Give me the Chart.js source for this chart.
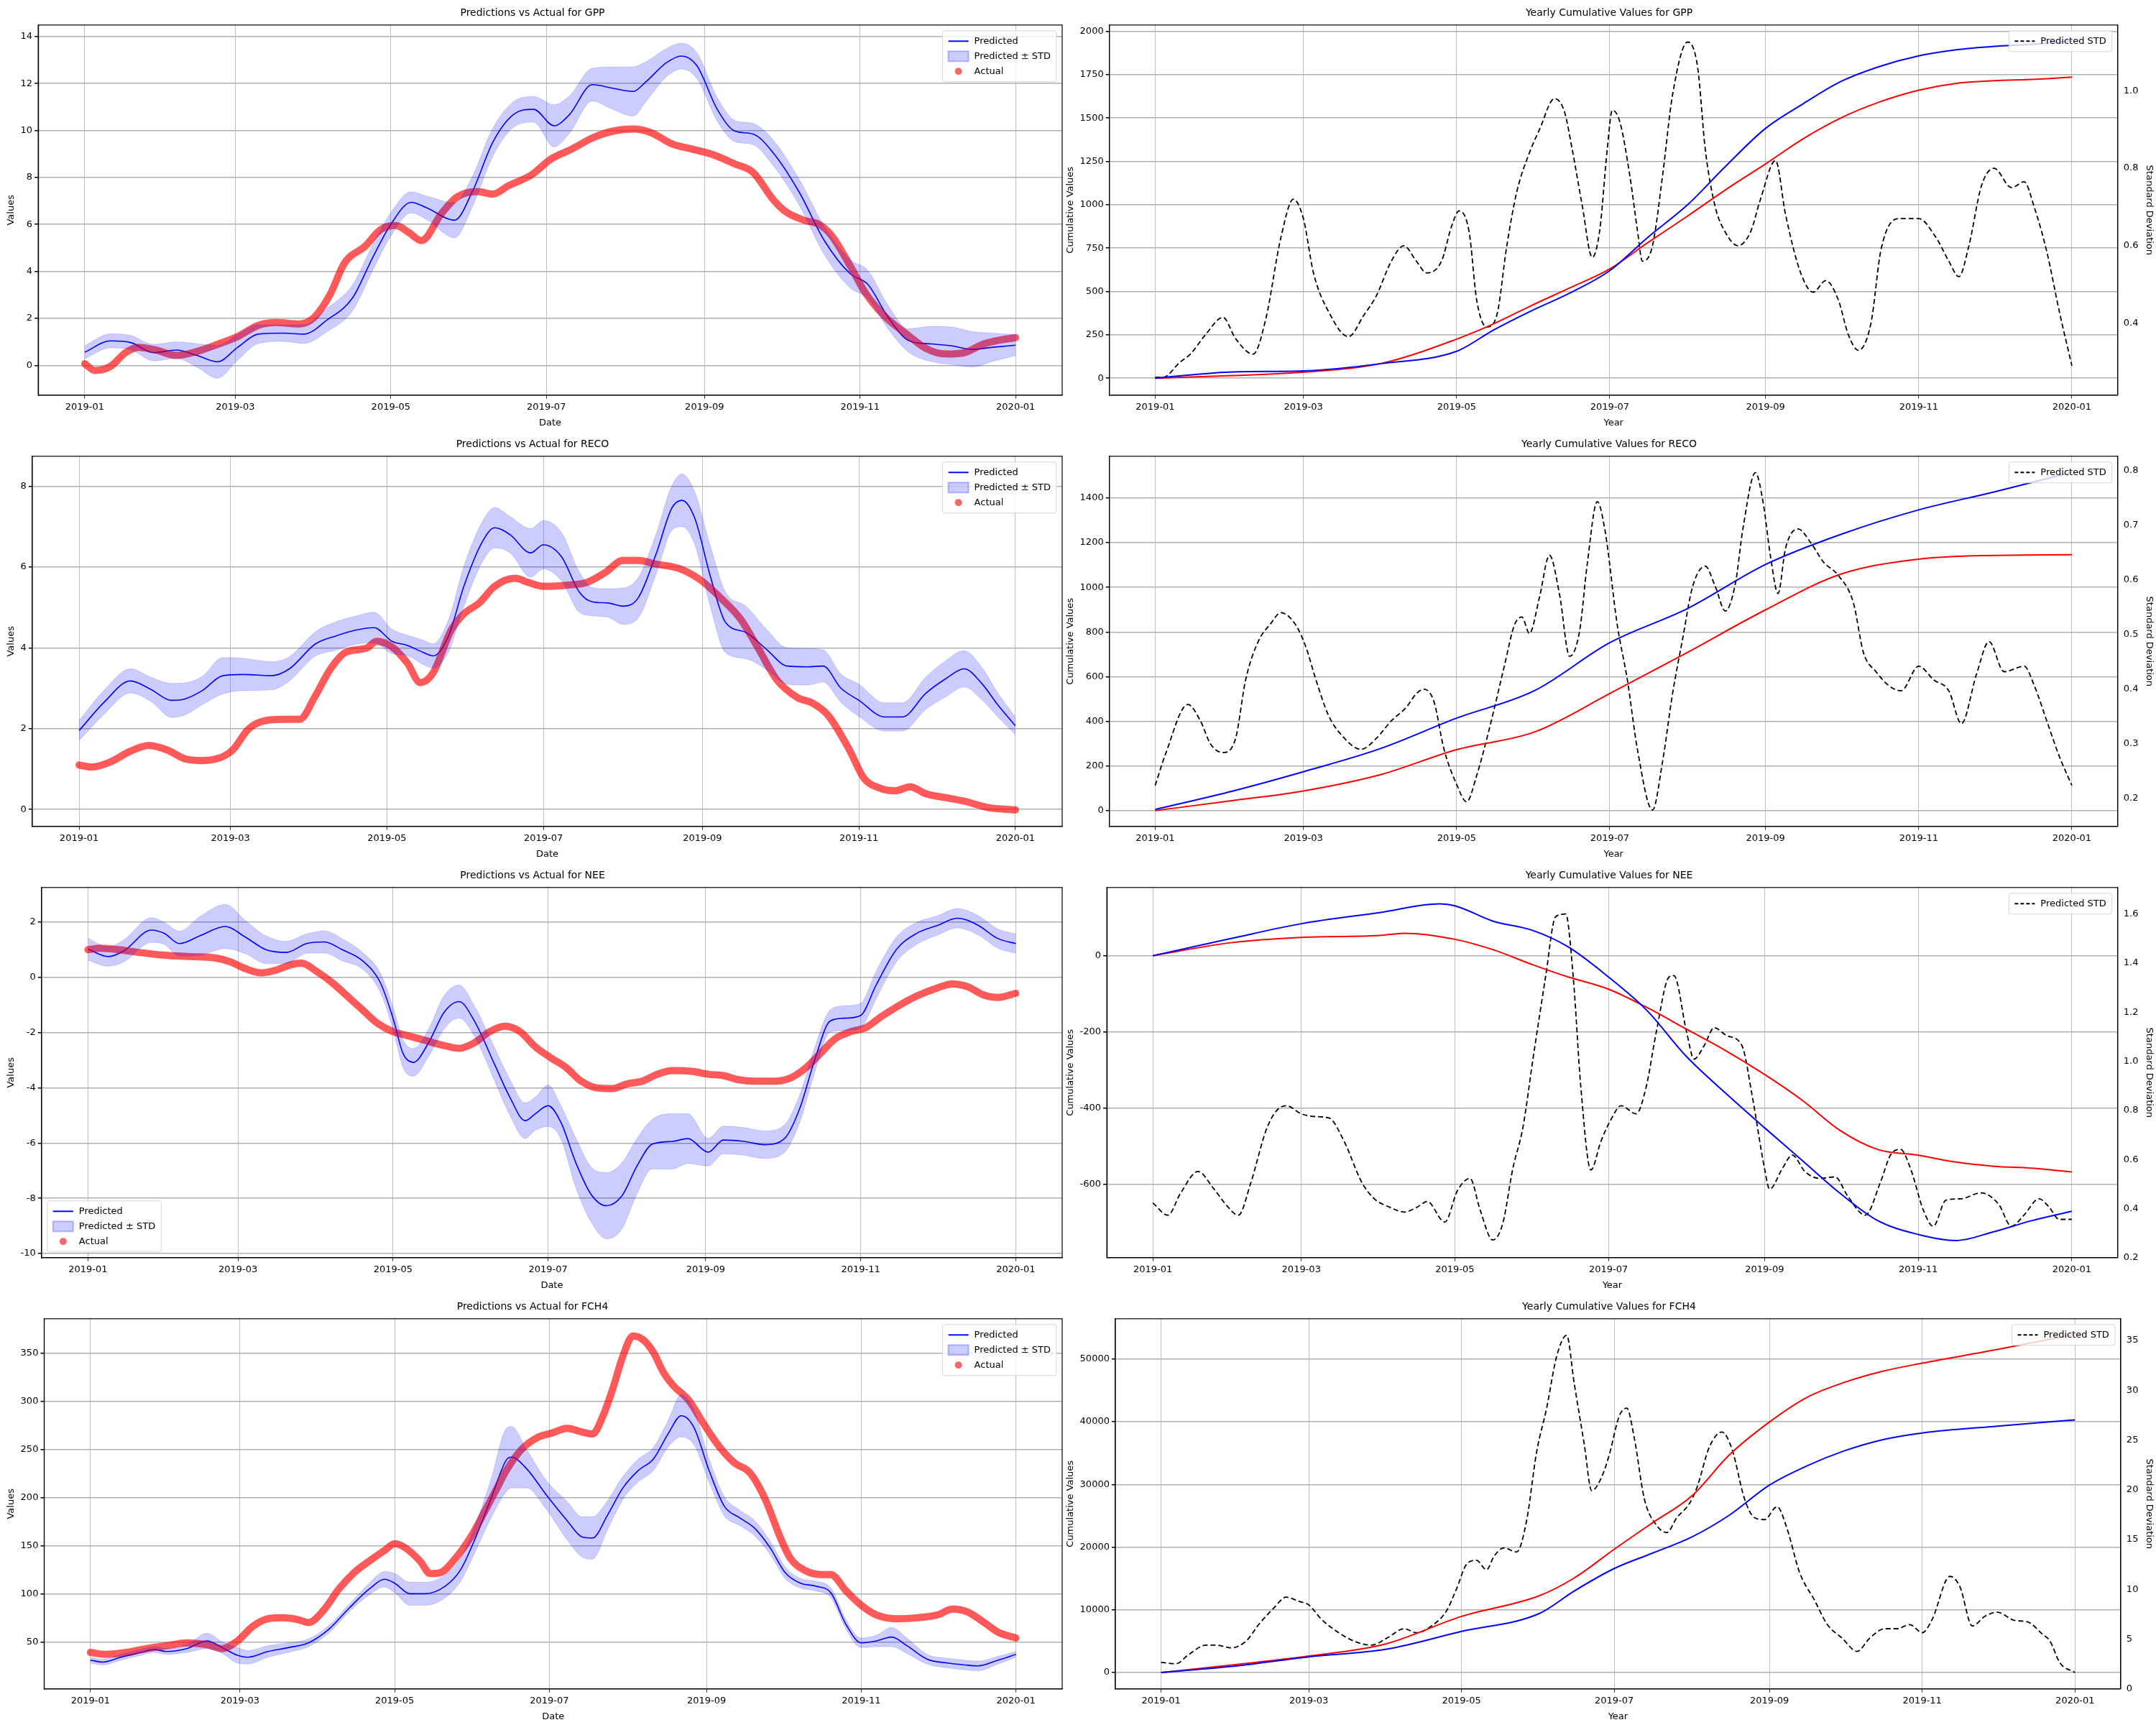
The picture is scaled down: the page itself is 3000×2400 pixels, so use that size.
<!DOCTYPE html>
<html>
<head>
<meta charset="utf-8">
<script src="https://cdn.jsdelivr.net/npm/chart.js@4.4.1/dist/chart.umd.min.js"></script>
<style>
  body { margin: 0; background: #fff; }
  #wrap { position: relative; width: 3000px; height: 2400px; }
  canvas { position: absolute; }
</style>
</head>
<body>
<div id="wrap"></div>
<script>
// ---- x axis (day of year 2019) ----
const monthTicks = [0, 59, 120, 181, 243, 304, 365];
const monthLabels = ['2019-01', '2019-03', '2019-05', '2019-07', '2019-09', '2019-11', '2020-01'];

// ---- GPP ----
const gppDays = [0,10,18,27,36,44,52,60,68,78,86,95,105,113,120,128,134,145,152,160,168,176,184,190,199,207,215,220,228,234,240,248,255,262,270,280,290,300,307,315,323,332,340,348,356,365];
const gppPred = [0.56,1.04,0.97,0.54,0.65,0.42,0.15,0.77,1.33,1.37,1.33,1.93,2.87,4.61,6.0,6.94,6.71,6.18,7.4,9.5,10.67,10.9,10.2,10.67,11.95,11.8,11.66,12.07,12.88,13.17,12.76,10.9,9.97,9.85,9.04,7.4,5.31,3.91,3.45,2.05,1.06,0.91,0.83,0.68,0.77,0.86];
const gppStd = [0.28,0.3,0.3,0.35,0.35,0.5,0.7,0.55,0.4,0.35,0.4,0.5,0.55,0.55,0.5,0.45,0.5,0.75,0.65,0.6,0.55,0.55,0.9,0.8,0.7,0.9,1.05,0.85,0.6,0.55,0.55,0.5,0.45,0.45,0.55,0.55,0.6,0.6,0.6,0.5,0.5,0.75,0.8,0.75,0.6,0.45];
const gppActDays = [0,4,10,16,21,28,36,44,52,60,68,75,84,90,96,102,110,116,122,127,132,140,146,154,160,166,175,183,191,199,207,215,222,230,238,246,255,262,270,275,282,288,293,300,306,314,322,330,338,345,352,358,365];
const gppAct = [0.07,-0.22,-0.05,0.54,0.77,0.65,0.42,0.59,0.89,1.23,1.7,1.82,1.76,2.05,2.98,4.38,5.08,5.78,5.95,5.66,5.31,6.48,7.17,7.4,7.29,7.64,8.1,8.8,9.21,9.68,9.97,10.06,9.91,9.44,9.21,8.98,8.57,8.22,7.05,6.53,6.18,6.0,5.5,4.26,3.1,2.05,1.35,0.71,0.48,0.54,0.89,1.06,1.18];
const gppCumDays = [0,31,59,90,120,135,150,165,181,196,212,227,243,258,273,288,304,319,334,349,365];
const gppCumPred = [0,36,42,84,155,280,390,490,620,810,1000,1220,1440,1582,1710,1795,1858,1893,1913,1925,1945];
const gppCumActDays = gppCumDays;
const gppCumAct = [0,15,35,85,225,315,420,520,630,780,935,1085,1235,1380,1500,1590,1660,1700,1715,1722,1736];
const gppSdDays = [0,3,10,14,20,27,32,39,44,50,55,59,63,69,77,83,88,94,99,104,108,114,118,121,125,128,132,136,140,144,149,153,159,163,166,170,174,177,180,182,185,189,192,194,198,202,206,212,216,219,223,227,232,237,241,247,251,257,262,267,272,276,280,285,289,296,304,311,316,320,324,329,334,341,346,350,355,360,365];
const gppSd = [0.26,0.26,0.30,0.32,0.37,0.415,0.36,0.32,0.41,0.62,0.72,0.67,0.53,0.43,0.365,0.42,0.47,0.56,0.60,0.56,0.53,0.56,0.65,0.69,0.635,0.46,0.39,0.42,0.60,0.74,0.84,0.90,0.98,0.945,0.85,0.705,0.57,0.64,0.85,0.95,0.92,0.78,0.64,0.56,0.60,0.78,0.99,1.126,1.06,0.85,0.70,0.635,0.60,0.635,0.72,0.82,0.68,0.53,0.48,0.51,0.46,0.37,0.33,0.40,0.59,0.67,0.67,0.62,0.56,0.52,0.60,0.755,0.80,0.75,0.765,0.70,0.585,0.43,0.29];

// ---- RECO ----
const recoDays = [0,10,20,28,36,41,48,56,64,75,82,92,100,108,115,122,128,134,138,144,150,157,162,168,176,181,188,195,200,206,212,218,225,231,235,240,246,252,260,268,276,284,290,297,304,314,321,330,338,345,352,358,365];
const recoPred = [1.95,2.67,3.18,2.97,2.7,2.73,2.94,3.31,3.34,3.31,3.48,4.09,4.29,4.44,4.5,4.16,4.06,3.89,3.8,4.29,5.52,6.6,6.97,6.8,6.35,6.55,6.26,5.38,5.14,5.11,5.03,5.24,6.33,7.45,7.65,7.21,5.79,4.63,4.38,3.96,3.55,3.53,3.55,3.0,2.7,2.29,2.29,2.87,3.24,3.48,3.11,2.6,2.07];
const recoStd = [0.25,0.3,0.3,0.3,0.42,0.4,0.35,0.45,0.4,0.35,0.3,0.3,0.35,0.35,0.38,0.3,0.25,0.3,0.3,0.4,0.5,0.5,0.5,0.45,0.6,0.6,0.6,0.5,0.35,0.35,0.45,0.5,0.5,0.55,0.65,0.65,0.75,0.75,0.65,0.5,0.45,0.45,0.4,0.35,0.4,0.35,0.35,0.4,0.45,0.45,0.4,0.3,0.22];
const recoActDays = [0,5,12,20,27,34,42,48,55,60,66,72,80,86,92,98,104,112,116,122,128,133,138,145,150,156,162,170,175,181,190,198,205,212,218,225,234,242,250,258,265,272,280,286,292,300,306,312,318,324,330,338,346,354,365];
const recoAct = [1.1,1.05,1.17,1.44,1.58,1.48,1.24,1.21,1.28,1.48,1.99,2.19,2.23,2.23,2.8,3.48,3.89,3.99,4.16,4.02,3.62,3.14,3.38,4.43,4.84,5.11,5.52,5.72,5.62,5.52,5.55,5.62,5.86,6.16,6.16,6.07,5.96,5.69,5.24,4.7,3.96,3.21,2.77,2.63,2.33,1.51,0.77,0.53,0.46,0.56,0.39,0.29,0.19,0.05,-0.01];
const recoCumDays = [0,31,59,90,120,151,181,212,243,273,304,334,365];
const recoCumPred = [5,88,174,279,414,537,752,905,1102,1237,1347,1427,1515];
const recoCumActDays = recoCumDays;
const recoCumAct = [0,45,88,162,273,352,524,709,899,1059,1126,1143,1146];
const recoSdDays = [0,4,13,18,22,27,32,36,41,46,50,56,60,64,69,74,82,88,94,100,104,107,111,115,120,124,128,133,139,143,146,149,153,157,161,165,169,172,176,179,184,188,192,198,202,206,210,214,219,223,227,231,234,239,242,245,248,251,256,261,266,272,278,282,287,292,297,304,310,316,321,327,332,338,346,350,355,360,365];
const recoSd = [0.224,0.28,0.372,0.342,0.30,0.284,0.31,0.417,0.487,0.52,0.54,0.517,0.477,0.417,0.352,0.317,0.29,0.31,0.342,0.367,0.392,0.40,0.377,0.29,0.226,0.194,0.242,0.327,0.442,0.517,0.532,0.502,0.568,0.645,0.573,0.46,0.507,0.628,0.743,0.693,0.517,0.417,0.29,0.179,0.267,0.392,0.492,0.588,0.625,0.588,0.543,0.593,0.693,0.796,0.743,0.643,0.575,0.658,0.693,0.668,0.633,0.608,0.558,0.467,0.432,0.407,0.397,0.442,0.417,0.397,0.337,0.427,0.487,0.432,0.442,0.407,0.342,0.277,0.224];

// ---- NEE ----
const neeDays = [0,8,14,25,30,36,44,54,62,70,78,86,93,100,108,115,120,124,128,134,140,146,152,160,166,172,176,181,186,192,198,204,210,216,222,230,236,244,250,258,266,274,280,286,292,298,304,310,318,326,334,342,350,358,365];
const neePred = [1.02,0.75,0.95,1.71,1.59,1.22,1.5,1.84,1.45,1.0,0.9,1.22,1.28,1.0,0.6,-0.19,-1.48,-2.77,-3.08,-2.37,-1.28,-0.88,-1.58,-3.16,-4.35,-5.19,-4.94,-4.65,-5.24,-6.73,-7.87,-8.27,-7.92,-6.83,-6.04,-5.94,-5.84,-6.33,-5.89,-5.94,-6.06,-5.84,-4.75,-2.96,-1.58,-1.48,-1.38,-0.29,1.0,1.59,1.87,2.14,1.89,1.4,1.22];
const neeStd = [0.4,0.35,0.4,0.45,0.4,0.45,0.7,0.8,0.6,0.5,0.4,0.35,0.4,0.4,0.3,0.35,0.4,0.5,0.5,0.5,0.6,0.6,0.55,0.6,0.65,0.65,0.6,0.75,0.6,0.9,1.0,1.2,1.2,1.0,0.9,1.0,0.9,0.5,0.5,0.5,0.5,0.5,0.5,0.45,0.4,0.45,0.45,0.5,0.45,0.4,0.35,0.35,0.35,0.35,0.35];
const neeActDays = [0,5,12,20,30,40,50,56,62,68,74,80,84,90,96,102,108,114,120,126,132,140,146,152,158,164,170,176,182,188,194,200,206,212,218,224,230,238,244,250,256,262,270,276,282,288,294,300,306,312,318,326,334,340,346,352,358,365];
const neeAct = [1.0,1.05,1.0,0.9,0.8,0.75,0.7,0.56,0.31,0.16,0.26,0.46,0.51,0.21,-0.19,-0.68,-1.18,-1.67,-1.97,-2.12,-2.27,-2.47,-2.57,-2.37,-1.97,-1.77,-1.97,-2.52,-2.91,-3.26,-3.76,-4.0,-4.03,-3.86,-3.76,-3.51,-3.38,-3.41,-3.51,-3.56,-3.71,-3.76,-3.76,-3.66,-3.31,-2.77,-2.22,-1.97,-1.82,-1.43,-1.08,-0.68,-0.39,-0.24,-0.34,-0.63,-0.73,-0.58];
const neeCumDays = [0,31,59,90,114,120,135,151,165,181,196,212,227,243,258,273,288,304,319,334,349,365];
const neeCumPred = [0,45,84,113,136,131,91,66,23,-56,-142,-265,-358,-452,-538,-624,-696,-732,-748,-725,-696,-671];
const neeCumActDays = [0,31,59,90,100,120,135,151,165,181,196,212,227,243,258,273,288,304,319,334,349,365];
const neeCumAct = [0,34,48,53,59,43,16,-24,-56,-88,-135,-193,-247,-312,-380,-459,-509,-524,-542,-553,-558,-568];
const neeSdDays = [0,6,11,18,24,29,34,39,45,49,53,59,64,70,76,83,88,94,100,105,109,116,121,126,130,135,139,143,147,151,156,160,164,167,170,174,178,182,186,192,196,200,205,207,212,215,219,223,228,234,238,243,245,250,254,259,265,271,276,283,289,293,297,301,306,310,315,321,329,336,341,346,352,356,360,365];
const neeSd = [0.423,0.373,0.462,0.551,0.484,0.417,0.373,0.507,0.719,0.797,0.819,0.786,0.775,0.769,0.674,0.507,0.44,0.406,0.386,0.406,0.429,0.345,0.473,0.523,0.395,0.272,0.339,0.563,0.73,1.009,1.343,1.589,1.6,1.343,0.897,0.557,0.674,0.763,0.819,0.786,0.897,1.12,1.343,1.349,1.12,1.009,1.064,1.137,1.104,1.064,0.864,0.562,0.479,0.562,0.618,0.551,0.523,0.529,0.451,0.373,0.507,0.618,0.641,0.562,0.395,0.328,0.434,0.44,0.464,0.417,0.328,0.373,0.44,0.406,0.356,0.356];

// ---- FCH4 ----
const fch4Days = [0,5,12,20,25,30,38,46,52,58,62,70,78,86,94,102,110,116,120,126,132,140,146,152,158,164,166,172,180,188,194,198,204,210,216,222,228,233,238,244,250,256,262,268,274,280,286,292,298,304,310,316,322,330,338,345,350,358,365];
const fch4Pred = [31,29,34,39,42,40,43,51,44,36,34,40,44,49,63,85,105,115,111,100,100,108,125,159,199,239,242,230,202,176,159,158,182,210,228,240,267,285,273,228,191,179,168,148,122,111,108,101,68,49,51,55,46,32,28,26,25,31,37];
const fch4Std = [3,3,3,3,3,3,4,8,6,8,7,6,5,4,4,4,6,8,10,12,12,12,12,14,20,33,32,20,15,20,21,22,15,12,12,12,14,22,18,12,10,8,8,7,6,5,5,5,5,5,6,10,8,5,5,5,5,4,3];
const fch4ActDays = [0,6,14,22,30,38,46,52,58,64,70,76,82,86,92,98,104,110,116,120,124,130,134,138,144,150,156,160,164,170,176,182,188,194,198,202,206,210,214,218,222,226,230,236,242,248,254,260,266,272,276,282,288,292,298,304,310,318,326,334,340,346,352,358,365];
const fch4Act = [39,37,39,43,46,49,47,43,51,66,74,75,73,70,83,105,122,134,145,152,148,134,121,122,137,159,188,208,228,250,262,267,272,268,266,284,313,347,368,364,351,330,316,301,276,253,236,226,199,159,137,124,120,120,103,88,78,74,75,78,84,81,71,60,54];
const fch4CumDays = [0,31,59,90,120,151,165,181,196,212,227,243,258,273,288,304,334,365];
const fch4CumPred = [0,1090,2490,3710,6550,9390,13000,16590,19000,21620,25100,29900,32970,35370,37120,38210,39300,40300];
const fch4CumActDays = fch4CumDays;
const fch4CumAct = [0,1310,2620,4590,8950,12230,15070,19650,23800,28170,34720,39960,43890,46290,48030,49340,51530,53930];
const fch4SdDays = [0,6,11,18,22,28,34,39,45,50,55,59,64,71,77,84,91,97,102,108,114,118,122,126,130,133,137,142,146,150,154,158,162,165,169,172,176,179,183,186,189,193,198,202,206,211,214,219,224,228,233,237,241,246,250,255,261,266,272,278,283,289,294,299,304,308,315,319,324,329,334,341,346,352,355,359,365];
const fch4Sd = [2.67,2.53,3.44,4.4,4.4,4.12,4.81,6.46,8.11,9.21,8.8,8.44,7.01,5.64,4.81,4.4,5.22,6.05,5.64,6.32,7.84,10.04,12.51,12.92,11.96,13.34,14.16,13.75,16.9,23.8,28.2,33.4,35.5,30.7,24.6,19.9,21.3,23.5,27.4,28.2,25.2,19.1,16.4,15.7,17.2,18.6,20.2,24.3,25.8,24.1,19.1,17.2,17.0,18.3,16.1,11.7,8.9,6.5,5.1,3.77,5.09,6.05,6.05,6.46,5.64,7.0,11.3,10.3,6.32,7.29,7.7,6.87,6.74,5.5,4.81,2.61,1.65];

// ---- axis ranges / ticks ----
const leftRanges = { GPP: [-1.27, 14.49], RECO: [-0.42, 8.74], NEE: [-10.15, 3.25], FCH4: [1.1, 385.8] };
const leftTicks = { GPP: [0,2,4,6,8,10,12,14], RECO: [0,2,4,6,8], NEE: [-10,-8,-6,-4,-2,0,2], FCH4: [50,100,150,200,250,300,350] };
const cumRanges = { GPP: [-98, 2036], RECO: [-71, 1587], NEE: [-793, 179], FCH4: [-2620, 56420] };
const cumTicks = { GPP: [0,250,500,750,1000,1250,1500,1750,2000], RECO: [0,200,400,600,800,1000,1200,1400], NEE: [-600,-400,-200,0], FCH4: [0,10000,20000,30000,40000,50000] };
const sdRanges = { GPP: [0.214, 1.17], RECO: [0.149, 0.826], NEE: [0.2, 1.708], FCH4: [0, 37.17] };
const sdTicks = { GPP: [0.4,0.6,0.8,1.0], RECO: [0.2,0.3,0.4,0.5,0.6,0.7,0.8], NEE: [0.2,0.4,0.6,0.8,1.0,1.2,1.4,1.6], FCH4: [0,5,10,15,20,25,30,35] };

const FONT = 'DejaVu Sans';
Chart.defaults.font.family = FONT;
Chart.defaults.font.size = 13;
Chart.defaults.color = '#000';

function pts(days, vals) { return days.map((d, i) => ({ x: d, y: vals[i] })); }

function fixTicks(list) {
  return function (scale) { scale.ticks = list.map(v => ({ value: v })); };
}

const gridColor = '#b0b0b0';

function xScale(title) {
  return {
    type: 'linear', min: -18.25, max: 383.25,
    afterBuildTicks: scale => { scale.ticks = monthTicks.map(v => ({ value: v })); },
    ticks: { callback: v => monthLabels[monthTicks.indexOf(v)], maxRotation: 0, padding: 4 },
    grid: { color: gridColor, lineWidth: 0.8, tickLength: 5, tickColor: '#000' },
    border: { color: '#000', width: 1.2 },
    title: { display: true, text: title, padding: { top: 2 } }
  };
}

// frame + legend box plugin
const boxPlugin = {
  id: 'boxPlugin',
  afterDraw(chart, args, opts) {
    const ctx = chart.ctx, a = chart.chartArea;
    ctx.save();
    ctx.strokeStyle = '#000'; ctx.lineWidth = 1.2;
    ctx.strokeRect(a.left, a.top, a.right - a.left, a.bottom - a.top);
    const items = opts.items || [];
    if (items.length) {
      ctx.font = '13px "' + FONT + '"';
      let tw = 0;
      items.forEach(it => { tw = Math.max(tw, ctx.measureText(it.text).width); });
      const rowH = 21, w = tw + 52, h = items.length * rowH + 8;
      const x = opts.pos === 'bl' ? a.left + 8 : a.right - w - 8;
      const y = opts.pos === 'bl' ? a.bottom - h - 8 : a.top + 8;
      ctx.fillStyle = 'rgba(255,255,255,0.8)';
      ctx.strokeStyle = '#d6d6d6'; ctx.lineWidth = 1;
      ctx.beginPath(); ctx.roundRect(x, y, w, h, 3); ctx.fill(); ctx.stroke();
      items.forEach((it, i) => {
        const cy = y + 4 + rowH * i + rowH / 2, mx = x + 8;
        if (it.kind === 'line' || it.kind === 'dash') {
          ctx.strokeStyle = it.color; ctx.lineWidth = 2;
          ctx.setLineDash(it.kind === 'dash' ? [5, 3] : []);
          ctx.beginPath(); ctx.moveTo(mx, cy); ctx.lineTo(mx + 28, cy); ctx.stroke();
          ctx.setLineDash([]);
        } else if (it.kind === 'rect') {
          ctx.fillStyle = 'rgba(0,0,255,0.2)'; ctx.strokeStyle = 'rgba(0,0,255,0.25)';
          ctx.fillRect(mx, cy - 7, 28, 14); ctx.strokeRect(mx, cy - 7, 28, 14);
        } else {
          ctx.fillStyle = 'rgba(255,0,0,0.6)';
          ctx.beginPath(); ctx.arc(mx + 14, cy, 5, 0, Math.PI * 2); ctx.fill();
        }
        ctx.fillStyle = '#000'; ctx.textBaseline = 'middle';
        ctx.fillText(it.text, mx + 36, cy);
      });
    }
    ctx.restore();
  }
};

function makeCanvas(left, top, w, h) {
  const c = document.createElement('canvas');
  c.width = w; c.height = h;
  c.style.left = left + 'px'; c.style.top = top + 'px';
  c.style.width = w + 'px'; c.style.height = h + 'px';
  document.getElementById('wrap').appendChild(c);
  return c;
}

function drawLeft(row, name, days, pred, std, actDays, act, legendPos) {
  const c = makeCanvas(0, row * 600, 1490, 600);
  const upper = pred.map((v, i) => v + std[i]);
  const lower = pred.map((v, i) => v - std[i]);
  new Chart(c.getContext('2d'), {
    type: 'line',
    data: {
      datasets: [
        { data: pts(days, upper), borderColor: 'rgba(0,0,255,0.15)', borderWidth: 1, pointRadius: 0, fill: false, cubicInterpolationMode: 'monotone' },
        { data: pts(days, lower), borderColor: 'rgba(0,0,255,0.15)', borderWidth: 1, pointRadius: 0, fill: '-1', backgroundColor: 'rgba(0,0,255,0.2)', cubicInterpolationMode: 'monotone' },
        { data: pts(actDays, act), borderColor: 'rgba(255,0,0,0.65)', borderWidth: 10, pointRadius: 0, fill: false, cubicInterpolationMode: 'monotone', borderCapStyle: 'round' },
        { data: pts(days, pred), borderColor: '#0000ff', borderWidth: 1.6, pointRadius: 0, fill: false, cubicInterpolationMode: 'monotone' }
      ]
    },
    options: {
      responsive: false, animation: false, devicePixelRatio: 1,
      layout: { padding: { left: 4, right: 12, top: 0, bottom: 0 } },
      scales: {
        x: xScale('Date'),
        y: {
          min: leftRanges[name][0], max: leftRanges[name][1],
          afterBuildTicks: fixTicks(leftTicks[name]),
          ticks: { callback: v => String(v) },
          grid: { color: gridColor, lineWidth: 1.5, tickLength: 5, tickColor: '#000' },
          border: { color: '#000', width: 1.2 },
          title: { display: true, text: 'Values', padding: { bottom: 2 } }
        }
      },
      plugins: {
        legend: { display: false }, tooltip: { enabled: false },
        title: { display: true, text: 'Predictions vs Actual for ' + name, font: { size: 14, weight: 'normal' }, padding: { top: 10, bottom: 8 } },
        boxPlugin: { pos: legendPos, items: [
          { kind: 'line', color: '#0000ff', text: 'Predicted' },
          { kind: 'rect', text: 'Predicted \u00b1 STD' },
          { kind: 'dot', text: 'Actual' }
        ] }
      }
    },
    plugins: [boxPlugin]
  });
}

function drawRight(row, name, cumDays, cumPred, cumActDays, cumAct, sdDays, sd) {
  const c = makeCanvas(1478, row * 600, 1522, 600);
  new Chart(c.getContext('2d'), {
    type: 'line',
    data: {
      datasets: [
        { data: pts(cumDays, cumPred), borderColor: '#0000ff', borderWidth: 2, pointRadius: 0, yAxisID: 'y', cubicInterpolationMode: 'monotone' },
        { data: pts(cumActDays, cumAct), borderColor: '#ff0000', borderWidth: 2, pointRadius: 0, yAxisID: 'y', cubicInterpolationMode: 'monotone' },
        { data: pts(sdDays, sd), borderColor: '#000', borderWidth: 1.8, borderDash: [7, 4], pointRadius: 0, yAxisID: 'y2', cubicInterpolationMode: 'monotone' }
      ]
    },
    options: {
      responsive: false, animation: false, devicePixelRatio: 1,
      layout: { padding: { left: 0, right: 0, top: 0, bottom: 0 } },
      scales: {
        x: xScale('Year'),
        y: {
          position: 'left', min: cumRanges[name][0], max: cumRanges[name][1],
          afterBuildTicks: fixTicks(cumTicks[name]),
          ticks: { callback: v => String(v) },
          grid: { color: gridColor, lineWidth: 1.5, tickLength: 5, tickColor: '#000' },
          border: { color: '#000', width: 1.2 },
          title: { display: true, text: 'Cumulative Values', padding: { bottom: 2 } }
        },
        y2: {
          position: 'right', min: sdRanges[name][0], max: sdRanges[name][1],
          afterBuildTicks: fixTicks(sdTicks[name]),
          ticks: { callback: v => name === 'FCH4' ? String(v) : v.toFixed(1) },
          grid: { display: false, drawOnChartArea: false, tickLength: 5, tickColor: '#000' },
          border: { color: '#000', width: 1.2 },
          title: { display: true, text: 'Standard Deviation', padding: { top: 2 } }
        }
      },
      plugins: {
        legend: { display: false }, tooltip: { enabled: false },
        title: { display: true, text: 'Yearly Cumulative Values for ' + name, font: { size: 14, weight: 'normal' }, padding: { top: 10, bottom: 8 } },
        boxPlugin: { pos: 'tr', items: [{ kind: 'dash', color: '#000', text: 'Predicted STD' }] }
      }
    },
    plugins: [boxPlugin]
  });
}

drawLeft(0, 'GPP', gppDays, gppPred, gppStd, gppActDays, gppAct, 'tr');
drawLeft(1, 'RECO', recoDays, recoPred, recoStd, recoActDays, recoAct, 'tr');
drawLeft(2, 'NEE', neeDays, neePred, neeStd, neeActDays, neeAct, 'bl');
drawLeft(3, 'FCH4', fch4Days, fch4Pred, fch4Std, fch4ActDays, fch4Act, 'tr');

drawRight(0, 'GPP', gppCumDays, gppCumPred, gppCumActDays, gppCumAct, gppSdDays, gppSd);
drawRight(1, 'RECO', recoCumDays, recoCumPred, recoCumActDays, recoCumAct, recoSdDays, recoSd);
drawRight(2, 'NEE', neeCumDays, neeCumPred, neeCumActDays, neeCumAct, neeSdDays, neeSd);
drawRight(3, 'FCH4', fch4CumDays, fch4CumPred, fch4CumActDays, fch4CumAct, fch4SdDays, fch4Sd);
</script>
</body>
</html>
